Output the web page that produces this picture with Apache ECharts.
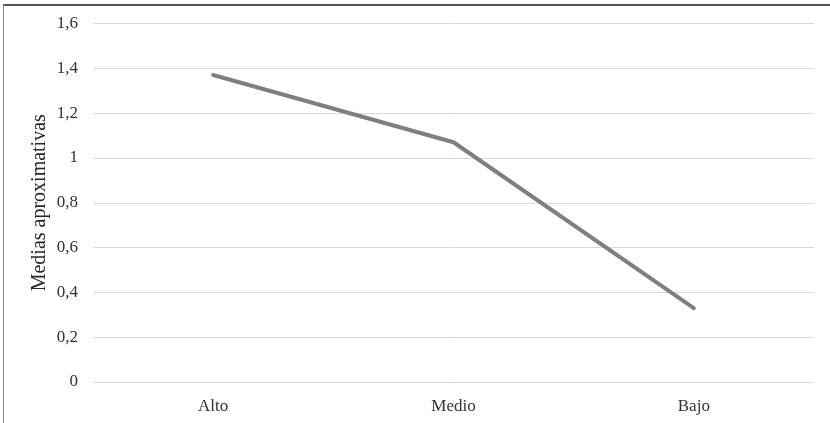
<!DOCTYPE html>
<html>
<head>
<meta charset="utf-8">
<script src="https://cdn.jsdelivr.net/npm/echarts@6/dist/echarts.min.js"></script>
<style>
  html, body { margin: 0; padding: 0; background: #fff; }
  #frame { position: absolute; left: 3px; top: 4px; width: 830px; height: 423px;
           border-left: 1px solid #888; border-top: 2px solid #555; box-sizing: border-box; }
  #chart { position: absolute; left: 0; top: 0; width: 830px; height: 423px; }
</style>
</head>
<body>
<div id="frame"></div>
<div id="chart"></div>
<script>
// Categories and approximate means per level
const categories = ['Alto', 'Medio', 'Bajo'];
const medias = [1.37, 1.07, 0.33];
const yTitle = 'Medias aproximativas';

const chart = echarts.init(document.getElementById('chart'));
const font = '"Liberation Serif", "Times New Roman", serif';

chart.setOption({
  backgroundColor: 'transparent',
  animation: false,
  grid: { left: 93, right: 16, top: 23.5, bottom: 41, containLabel: false },
  xAxis: {
    type: 'category',
    data: categories,
    boundaryGap: true,
    axisLine: { show: false },
    axisTick: { show: false },
    axisLabel: { color: '#333333', fontFamily: font, fontSize: 17, margin: 16 }
  },
  yAxis: {
    type: 'value',
    min: 0,
    max: 1.6,
    interval: 0.2,
    name: yTitle,
    nameLocation: 'middle',
    nameGap: 43,
    nameRotate: 90,
    nameMoveOverlap: false,
    nameTextStyle: { color: '#262626', fontFamily: font, fontSize: 20 },
    axisLine: { show: false },
    axisTick: { show: false },
    splitLine: { lineStyle: { color: '#d9d9d9', width: 1 } },
    axisLabel: {
      color: '#333333', fontFamily: font, fontSize: 17, margin: 15,
      formatter: v => (Math.round(v * 10) / 10).toString().replace('.', ',')
    }
  },
  series: [{
    type: 'line',
    data: medias,
    symbol: 'none',
    lineStyle: { color: '#7f7f7f', width: 4, cap: 'round', join: 'round' }
  }]
});
</script>
</body>
</html>
